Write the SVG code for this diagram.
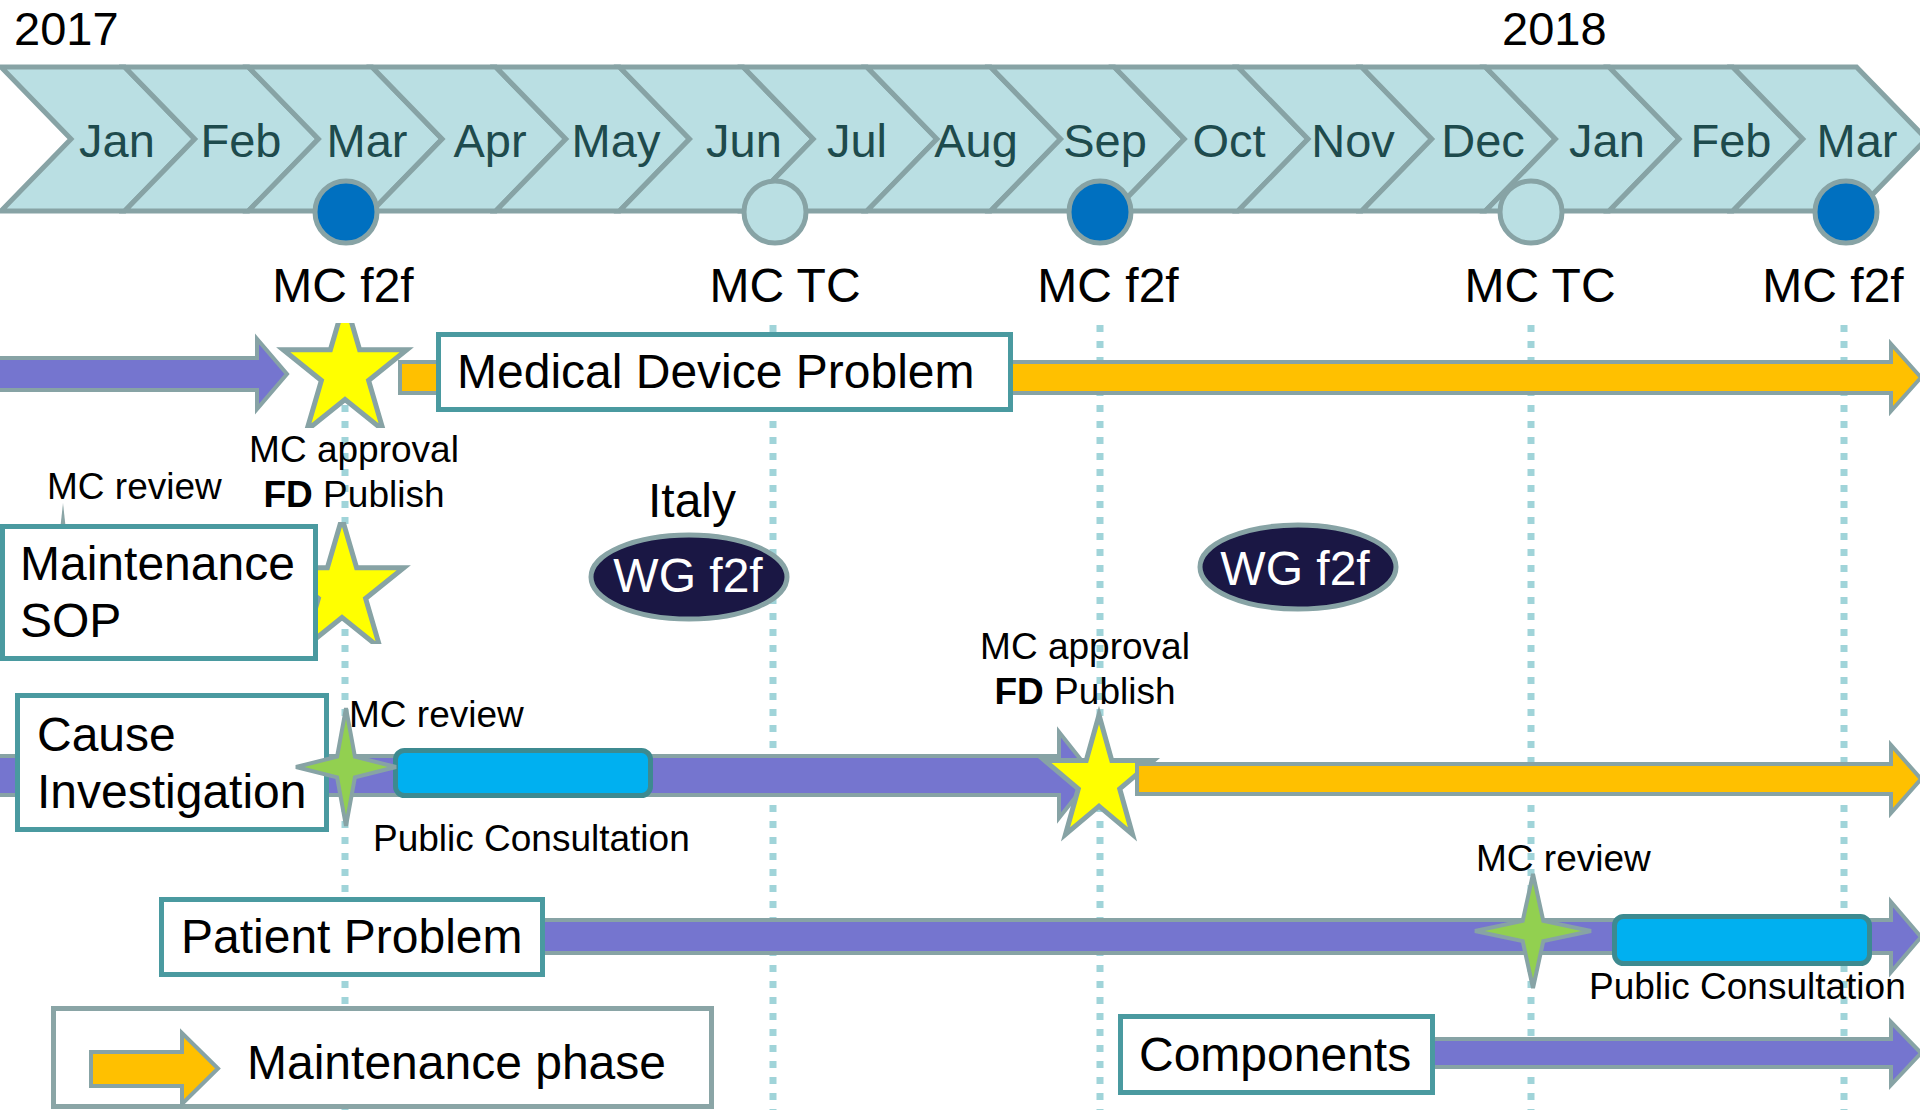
<svg xmlns="http://www.w3.org/2000/svg" width="1920" height="1110" viewBox="0 0 1920 1110">
<style>
text{font-family:"Liberation Sans",Arial,sans-serif;fill:#000}
.mon{font-size:47px;fill:#1E4B4D;text-anchor:middle}
.big{font-size:48px}
.yr{font-size:47px}
.sm{font-size:37px}
.mid{text-anchor:middle}
.chev{fill:#BADFE3;stroke:#87A3A5;stroke-width:5;stroke-linejoin:miter}
.box{fill:#fff;stroke:#4A9AA0;stroke-width:5}
.lgd{fill:#fff;stroke:#8AA5A6;stroke-width:5}
.arrP{fill:#7575CF;stroke:#87A3A5;stroke-width:4}
.arrO{fill:#FFC000;stroke:#87A3A5;stroke-width:4}
.ystar{fill:#FFFF00;stroke:#87A3A5;stroke-width:5}
.gstar{fill:#92D050;stroke:#87A3A5;stroke-width:4}
.pc{fill:#00B0F0;stroke:#3D8A90;stroke-width:5}
.wg{fill:#1A1744;stroke:#87A3A5;stroke-width:5}
.wgt{font-size:48px;fill:#fff;text-anchor:middle}
.dot{stroke:#A0D4D9;stroke-width:7;stroke-dasharray:7 9;fill:none}
.f2f{fill:#0070C0;stroke:#87A3A5;stroke-width:5}
.tc{fill:#BADFE3;stroke:#87A3A5;stroke-width:5}
</style>
<defs>
<clipPath id="clipS1"><rect x="270" y="323" width="150" height="105"/></clipPath>
<clipPath id="clipS2"><rect x="270" y="522" width="150" height="122"/></clipPath>
</defs>

<g id="gridlines">
<line class="dot" x1="345" y1="325" x2="345" y2="1110"/>
<line class="dot" x1="773" y1="325" x2="773" y2="1110"/>
<line class="dot" x1="1100" y1="325" x2="1100" y2="1110"/>
<line class="dot" x1="1531" y1="325" x2="1531" y2="1110"/>
<line class="dot" x1="1844" y1="325" x2="1844" y2="1110"/>
</g>

<g id="timeline">
<path class="chev" d="M1,67 H124.7 L194.7,139 L124.7,211 H1 L71,139 Z"/>
<path class="chev" d="M124.7,67 H248.4 L318.4,139 L248.4,211 H124.7 L194.7,139 Z"/>
<path class="chev" d="M248.4,67 H372.1 L442.1,139 L372.1,211 H248.4 L318.4,139 Z"/>
<path class="chev" d="M372.1,67 H495.8 L565.8,139 L495.8,211 H372.1 L442.1,139 Z"/>
<path class="chev" d="M495.8,67 H619.5 L689.5,139 L619.5,211 H495.8 L565.8,139 Z"/>
<path class="chev" d="M619.5,67 H743.2 L813.2,139 L743.2,211 H619.5 L689.5,139 Z"/>
<path class="chev" d="M743.2,67 H866.9 L936.9,139 L866.9,211 H743.2 L813.2,139 Z"/>
<path class="chev" d="M866.9,67 H990.6 L1060.6,139 L990.6,211 H866.9 L936.9,139 Z"/>
<path class="chev" d="M990.6,67 H1114.3 L1184.3,139 L1114.3,211 H990.6 L1060.6,139 Z"/>
<path class="chev" d="M1114.3,67 H1238 L1308,139 L1238,211 H1114.3 L1184.3,139 Z"/>
<path class="chev" d="M1238,67 H1361.7 L1431.7,139 L1361.7,211 H1238 L1308,139 Z"/>
<path class="chev" d="M1361.7,67 H1485.4 L1555.4,139 L1485.4,211 H1361.7 L1431.7,139 Z"/>
<path class="chev" d="M1485.4,67 H1609.1 L1679.1,139 L1609.1,211 H1485.4 L1555.4,139 Z"/>
<path class="chev" d="M1609.1,67 H1732.8 L1802.8,139 L1732.8,211 H1609.1 L1679.1,139 Z"/>
<path class="chev" d="M1732.8,67 H1856.5 L1926.5,139 L1856.5,211 H1732.8 L1802.8,139 Z"/>
<text class="mon" x="117" y="157">Jan</text>
<text class="mon" x="241" y="157">Feb</text>
<text class="mon" x="367" y="157">Mar</text>
<text class="mon" x="490" y="157">Apr</text>
<text class="mon" x="616" y="157">May</text>
<text class="mon" x="744" y="157">Jun</text>
<text class="mon" x="857" y="157">Jul</text>
<text class="mon" x="976" y="157">Aug</text>
<text class="mon" x="1105" y="157">Sep</text>
<text class="mon" x="1229" y="157">Oct</text>
<text class="mon" x="1353" y="157">Nov</text>
<text class="mon" x="1483" y="157">Dec</text>
<text class="mon" x="1607" y="157">Jan</text>
<text class="mon" x="1731" y="157">Feb</text>
<text class="mon" x="1857" y="157">Mar</text>
<text class="yr" x="14" y="45">2017</text>
<text class="yr" x="1502" y="45">2018</text>
</g>

<g id="meetings">
<circle class="f2f" cx="346" cy="212" r="31"/>
<circle class="tc" cx="775" cy="212" r="31"/>
<circle class="f2f" cx="1100" cy="212" r="31"/>
<circle class="tc" cx="1531" cy="212" r="31"/>
<circle class="f2f" cx="1846" cy="212" r="31"/>
<text class="big mid" x="343" y="302">MC f2f</text>
<text class="big mid" x="785" y="302">MC TC</text>
<text class="big mid" x="1108" y="302">MC f2f</text>
<text class="big mid" x="1540" y="302">MC TC</text>
<text class="big mid" x="1833" y="302">MC f2f</text>
</g>

<g id="connectors">
<path class="arrP" d="M-5,358 H257 V339 L287,374 L257,409 V390 H-5 Z"/>
<path class="arrO" d="M400,362 H1891 V344 L1921,377.5 L1891,411 V393 H400 Z"/>
<path class="arrP" d="M-5,756 H1059 V732 L1093,775 L1059,818 V795 H-5 Z"/>
<path class="arrP" d="M540,920 H1891 V902 L1921,937 L1891,972 V953 H540 Z"/>
<path class="arrP" d="M1430,1039 H1891 V1022 L1921,1053 L1891,1085 V1067 H1430 Z"/>
</g>

<g id="star-mdp">
<polygon class="ystar" clip-path="url(#clipS1)" points="345,300 359.6,349.8 406.8,349.8 368.6,380.5 383.2,430.2 345,399.5 306.8,430.2 321.4,380.5 283.2,349.8 330.4,349.8"/>
</g>
<g id="medical-device-problem">
<rect class="box" x="438.5" y="334.5" width="572" height="75"/>
<text class="big" x="457" y="388">Medical Device Problem</text>
</g>
<g id="label-mdp-approval">
<text class="sm mid" x="354" y="462">MC approval</text>
<text class="sm mid" x="354" y="507"><tspan font-weight="bold">FD</tspan> Publish</text>
</g>

<g id="star-sop">
<polygon class="ystar" clip-path="url(#clipS2)" points="342,518 356.6,567.8 403.8,567.8 365.6,598.5 380.2,648.2 342,617.5 303.8,648.2 318.4,598.5 280.2,567.8 327.4,567.8"/>
<polygon points="60.5,526 63,503 65.5,526" fill="#8AA5A6"/>
</g>
<g id="label-sop-review">
<text class="sm" x="47" y="499">MC review</text>
</g>
<g id="maintenance-sop">
<rect class="box" x="2.5" y="526.5" width="313" height="132"/>
<text class="big" x="20" y="580">Maintenance</text>
<text class="big" x="20" y="637">SOP</text>
</g>

<g id="wg-italy">
<text class="big mid" x="692" y="517">Italy</text>
<ellipse class="wg" cx="689" cy="577" rx="98" ry="42"/>
<text class="wgt" x="688" y="592">WG f2f</text>
</g>
<g id="wg-2">
<ellipse class="wg" cx="1298" cy="567" rx="98" ry="42"/>
<text class="wgt" x="1295" y="585">WG f2f</text>
</g>

<g id="cause-investigation">
<rect class="box" x="17.5" y="695.5" width="309" height="134"/>
<text class="big" x="37" y="751">Cause</text>
<text class="big" x="37" y="808">Investigation</text>
</g>
<g id="consultation-ci">
<rect class="pc" x="395.5" y="750.5" width="255" height="45" rx="9"/>
<text class="sm" x="373" y="851">Public Consultation</text>
</g>
<g id="review-ci">
<polygon class="gstar" points="346,708 354.9,756.6 396,767 354.9,777.4 346,826 337.1,777.4 296,767 337.1,756.6"/>
<text class="sm" x="349" y="727">MC review</text>
</g>
<g id="star-ci">
<polygon class="ystar" points="1099,715 1111.8,760.6 1153.2,760.6 1119.7,788.8 1132.5,834.4 1099,806.2 1065.5,834.4 1078.3,788.8 1044.8,760.6 1086.2,760.6"/>
<text class="sm mid" x="1085" y="659">MC approval</text>
<text class="sm mid" x="1085" y="704"><tspan font-weight="bold">FD</tspan> Publish</text>
</g>
<g id="connector-maint-ci">
<path class="arrO" d="M1137,764 H1891 V745 L1921,779 L1891,813 V794 H1137 Z"/>
</g>

<g id="patient-problem">
<rect class="box" x="161.5" y="899.5" width="381" height="75"/>
<text class="big" x="181" y="953">Patient Problem</text>
</g>
<g id="review-pp">
<polygon class="gstar" points="1533,874 1543.3,920.9 1591,931 1543.3,941.1 1533,988 1522.7,941.1 1475,931 1522.7,920.9"/>
<text class="sm" x="1476" y="871">MC review</text>
</g>
<g id="consultation-pp">
<rect class="pc" x="1614.5" y="916.5" width="255" height="47" rx="9"/>
<text class="sm" x="1589" y="999">Public Consultation</text>
</g>

<g id="components">
<rect class="box" x="1120.5" y="1016.5" width="312" height="76"/>
<text class="big" x="1139" y="1071">Components</text>
</g>

<g id="legend">
<rect class="lgd" x="53.5" y="1008.5" width="658" height="98"/>
<path class="arrO" d="M91,1052 H182 V1033 L218,1068.5 L182,1104 V1086 H91 Z"/>
<text class="big" x="247" y="1079">Maintenance phase</text>
</g>
</svg>
